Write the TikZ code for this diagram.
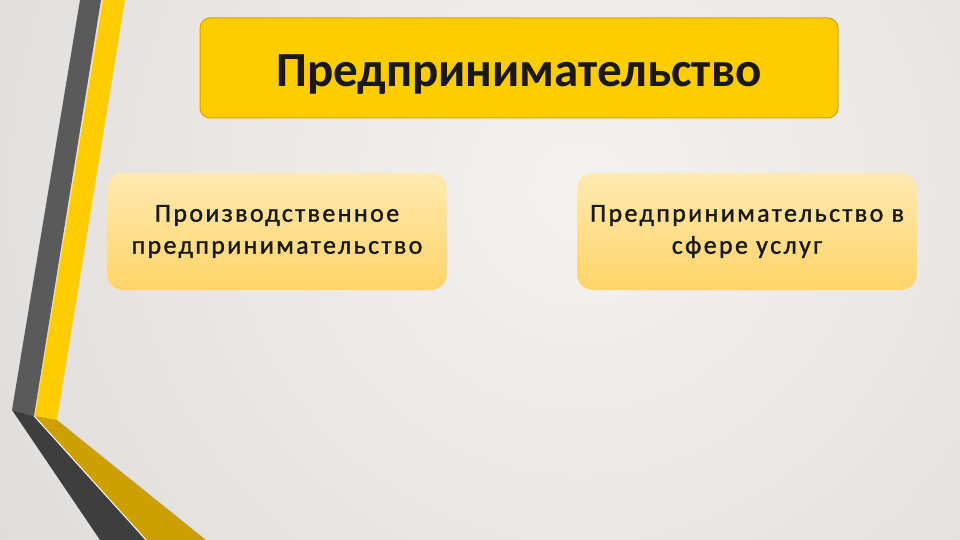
\documentclass[tikz,border=0pt]{standalone}
\usepackage{fontspec}
\setmainfont{Carlito}
\usetikzlibrary{positioning}
\definecolor{bglight}{HTML}{F4F2F0}
\definecolor{bgdark}{HTML}{D2CDCA}
\definecolor{stripegray}{HTML}{5A5A5A}
\definecolor{stripegraydark}{HTML}{3E3E3E}
\definecolor{stripeyellow}{HTML}{FFCC00}
\definecolor{stripegold}{HTML}{CDA000}
\definecolor{titlefill}{HTML}{FFCC00}
\definecolor{titleline}{HTML}{D2A600}
\definecolor{boxtop}{HTML}{FFEAB2}
\definecolor{boxbottom}{HTML}{FFD468}

\begin{document}
\begin{tikzpicture}[x=1pt,y=-1pt,
    titlebox/.style={rounded corners=10pt, fill=titlefill, draw=titleline, line width=1pt,
        minimum width=638pt, minimum height=100pt, inner sep=0pt,
        text height=38pt, text depth=0pt, text=black!90,
        font=\fontsize{49}{52}\selectfont\bfseries},
    kindbox/.style={rounded corners=16pt, top color=boxtop, bottom color=boxbottom,
        minimum width=340pt, minimum height=117pt, inner sep=0pt, align=center, text=black!90,
        execute at begin node=\rule{0pt}{26pt},
        font=\fontsize{26}{32}\selectfont\addfontfeature{LetterSpace=9,FakeBold=1.2}}]
    \useasboundingbox (0,0) rectangle (960,540);
    % background
    \fill[bgdark] (0,0) rectangle (960,540);
    \begin{scope}
        \clip (0,0) rectangle (960,540);
        \shade[inner color=bglight, outer color=bgdark] (580,190) circle (1150);
    \end{scope}

    % stripes on the left
    \fill[stripegray] (80,0) -- (101,0) -- (34,416) -- (12,410) -- cycle;
    \fill[stripegraydark] (12,410) -- (34,416) -- (146,540) -- (100,540) -- cycle;
    \fill[stripeyellow] (103,0) -- (125,0) -- (57,420) -- (35,416) -- cycle;
    \fill[stripegold] (35,416) -- (57,420) -- (206,540) -- (147,540) -- cycle;
    \draw[white, line width=0.8pt] (34,416) -- (146,540);

    \node[titlebox] (title) at (519,68){Предпринимательство};
    \node[kindbox] (prod) at (277,231.5){Производственное\\предпринимательство};
    \node[kindbox] (serv) at (747,231.5){Предпринимательство в\\сфере услуг};
\end{tikzpicture}
\end{document}
